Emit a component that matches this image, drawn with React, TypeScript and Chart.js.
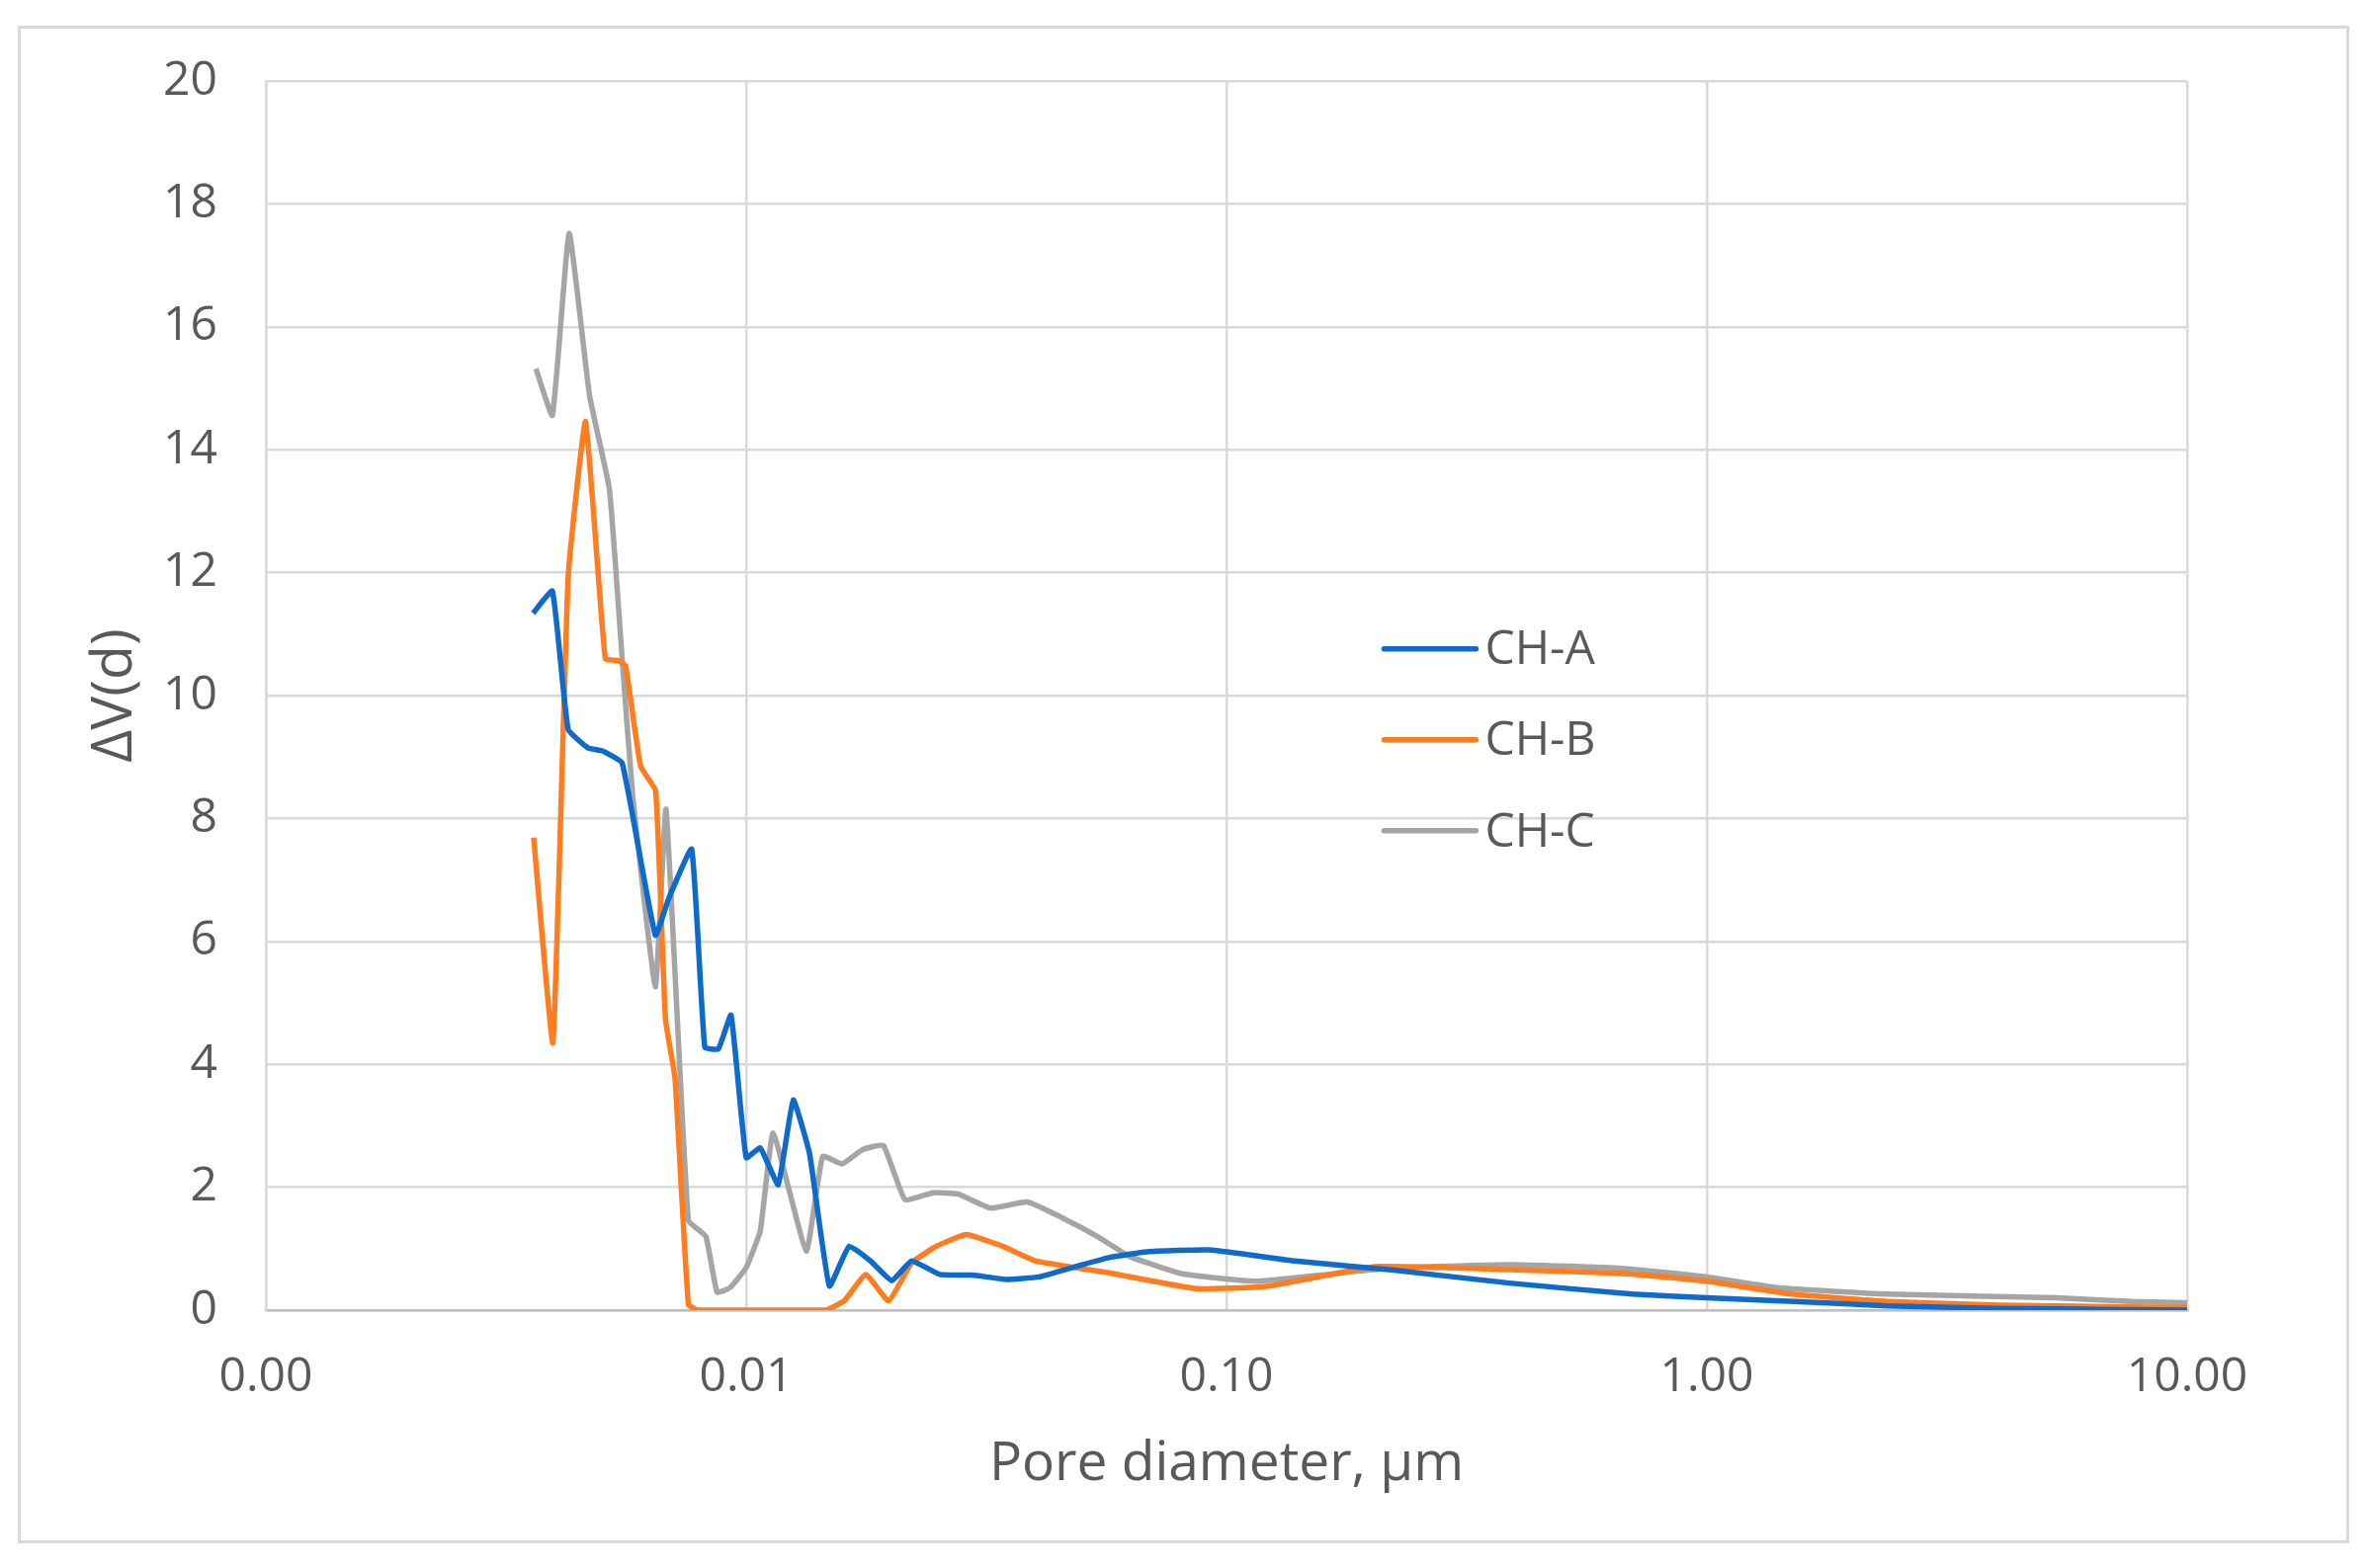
import { useEffect, useRef } from 'react'
import { Chart, registerables, Plugin } from 'chart.js'

Chart.register(...registerables)

// series
const seriesNames = ['CH-A', 'CH-B', 'CH-C']
const seriesColors = ['#0F6BCB', '#FF7C1F', '#A5A5A5']

// CH-A
const diamA = [0.0036, 0.00395, 0.00426, 0.00468, 0.00502, 0.00552, 0.00647, 0.0069, 0.0077, 0.0082, 0.00875, 0.0093, 0.01, 0.0107, 0.01166, 0.01253, 0.01356, 0.0149, 0.01638, 0.01815, 0.0201, 0.0221, 0.0253, 0.0296, 0.0347, 0.0407, 0.0476, 0.0566, 0.0682, 0.092, 0.139, 0.223, 0.388, 0.7, 1.0, 1.65, 2.37, 4.0, 7.4, 10]
const dvA = [11.34, 11.7, 9.45, 9.15, 9.1, 8.9, 6.1, 6.7, 7.5, 4.28, 4.25, 4.8, 2.48, 2.64, 2.04, 3.42, 2.53, 0.39, 1.04, 0.8, 0.48, 0.8, 0.58, 0.57, 0.5, 0.54, 0.69, 0.85, 0.95, 0.98, 0.8, 0.65, 0.44, 0.26, 0.2, 0.13, 0.07, 0.03, 0.01, 0.0]

// CH-B
const diamB = [0.00361, 0.00396, 0.00426, 0.00463, 0.00509, 0.00542, 0.00561, 0.00603, 0.00648, 0.00679, 0.00711, 0.00758, 0.00795, 0.0087, 0.0095, 0.0104, 0.0114, 0.0125, 0.0137, 0.01466, 0.016, 0.01774, 0.0198, 0.0221, 0.0249, 0.0287, 0.0342, 0.04, 0.0476, 0.0566, 0.0865, 0.122, 0.206, 0.388, 0.665, 1.0, 1.5, 2.37, 4.08, 10]
const dvB = [7.69, 4.35, 11.93, 14.46, 10.6, 10.57, 10.48, 8.85, 8.45, 4.74, 3.77, 0.09, 0, 0, 0, 0, 0, 0, 0, 0, 0.15, 0.58, 0.15, 0.77, 1.04, 1.23, 1.04, 0.8, 0.7, 0.61, 0.35, 0.39, 0.71, 0.66, 0.6, 0.47, 0.26, 0.14, 0.08, 0.04]

// CH-C
const diamC = [0.00365, 0.00395, 0.00428, 0.00472, 0.00519, 0.00553, 0.0058, 0.00647, 0.00681, 0.00758, 0.00824, 0.0087, 0.00927, 0.01, 0.0107, 0.01138, 0.01334, 0.01443, 0.01585, 0.01744, 0.0193, 0.0214, 0.0245, 0.0276, 0.0323, 0.0385, 0.0461, 0.0538, 0.063, 0.081, 0.115, 0.216, 0.388, 0.665, 1.0, 1.42, 2.37, 5.35, 7.69, 10]
const dvC = [15.32, 14.56, 17.52, 14.88, 13.36, 10.5, 8.4, 5.26, 8.15, 1.46, 1.2, 0.29, 0.37, 0.69, 1.29, 2.88, 0.96, 2.5, 2.38, 2.61, 2.68, 1.8, 1.91, 1.89, 1.66, 1.76, 1.48, 1.2, 0.87, 0.59, 0.47, 0.68, 0.74, 0.68, 0.54, 0.36, 0.26, 0.2, 0.14, 0.12]

// axes
const xTickValues = [0.001, 0.01, 0.1, 1, 10]
const yMin = 0
const yMax = 20
const yStep = 2

const W = 2397
const H = 1587
const FONT = '"Open Sans", "Noto Sans", sans-serif'
const TEXT = '#595959'
const GRID = '#d9d9d9'

const toPoints = (xs: number[], ys: number[]) => xs.map((x, i) => ({ x, y: ys[i] }))

// legend drawn inside the plot, to the right of the peaks
const insideLegend: Plugin<'line'> = {
  id: 'insideLegend',
  afterDatasetsDraw(chart) {
    const { ctx, chartArea } = chart
    const w = chartArea.right - chartArea.left
    const h = chartArea.bottom - chartArea.top
    const x0 = chartArea.left + w * 0.582
    const len = 93
    chart.data.datasets.forEach((ds, i) => {
      const y = chartArea.top + h * (0.462 + i * 0.074)
      ctx.save()
      ctx.strokeStyle = ds.borderColor as string
      ctx.lineWidth = 5.5
      ctx.lineCap = 'round'
      ctx.beginPath()
      ctx.moveTo(x0, y)
      ctx.lineTo(x0 + len, y)
      ctx.stroke()
      ctx.fillStyle = TEXT
      ctx.font = `48px ${FONT}`
      ctx.textBaseline = 'middle'
      ctx.fillText(String(ds.label), x0 + len + 9, y + 2)
      ctx.restore()
    })
  }
}

export default function App() {
  const chartRef = useRef<HTMLCanvasElement | null>(null)
  const chartInstance = useRef<Chart | null>(null)

  useEffect(() => {
    if (!chartRef.current) return
    const ctx = chartRef.current.getContext('2d')
    if (!ctx) return

    if (chartInstance.current) chartInstance.current.destroy()

    const xs = [diamA, diamB, diamC]
    const ys = [dvA, dvB, dvC]

    chartInstance.current = new Chart(ctx, {
      type: 'line',
      data: {
        datasets: seriesNames.map((name, i) => ({
          label: name,
          data: toPoints(xs[i], ys[i]),
          borderColor: seriesColors[i],
          backgroundColor: seriesColors[i],
          borderWidth: 5.5,
          pointRadius: 0,
          tension: 0.12,
          fill: false
        }))
      },
      options: {
        animation: false,
        responsive: false,
        devicePixelRatio: 1,
        layout: { padding: { left: 0, right: 184, top: 82, bottom: 0 } },
        plugins: {
          legend: { display: false },
          tooltip: { enabled: false }
        },
        scales: {
          x: {
            type: 'logarithmic',
            min: xTickValues[0],
            max: xTickValues[xTickValues.length - 1],
            afterBuildTicks: (scale) => {
              scale.ticks = xTickValues.map(v => ({ value: v }))
            },
            afterFit: (scale) => {
              scale.height = 261
            },
            ticks: {
              callback: (v) => Number(v).toFixed(2),
              font: { family: FONT, size: 48 },
              color: TEXT,
              padding: 40,
              maxRotation: 0,
              autoSkip: false
            },
            grid: { color: GRID, lineWidth: 2.5, drawTicks: false },
            border: { color: '#bfbfbf', width: 2.5 },
            title: {
              display: true,
              text: 'Pore diameter, µm',
              font: { family: FONT, size: 55 },
              color: TEXT,
              padding: { top: 0, bottom: 72 }
            }
          },
          y: {
            min: yMin,
            max: yMax,
            afterFit: (scale) => {
              scale.width = 269
            },
            ticks: {
              stepSize: yStep,
              font: { family: FONT, size: 48 },
              color: TEXT,
              padding: 49
            },
            grid: { color: GRID, lineWidth: 2.5, drawTicks: false },
            border: { color: GRID, width: 2.5 },
            title: {
              display: true,
              text: 'ΔV(d)',
              font: { family: FONT, size: 57 },
              color: TEXT,
              padding: { top: 83, bottom: 0 }
            }
          }
        }
      },
      plugins: [insideLegend]
    })

    return () => {
      if (chartInstance.current) {
        chartInstance.current.destroy()
        chartInstance.current = null
      }
    }
  }, [])

  return (
    <div style={{ position: 'absolute', left: 0, top: 0, width: W, height: H, background: '#fff', overflow: 'hidden' }}>
      <div
        style={{
          position: 'absolute',
          left: 18,
          top: 26,
          width: 2359,
          height: 1536,
          border: '3px solid #d9d9d9',
          boxSizing: 'border-box'
        }}
      />
      <canvas ref={chartRef} width={W} height={H} style={{ position: 'absolute', left: 0, top: 0 }} />
    </div>
  )
}
